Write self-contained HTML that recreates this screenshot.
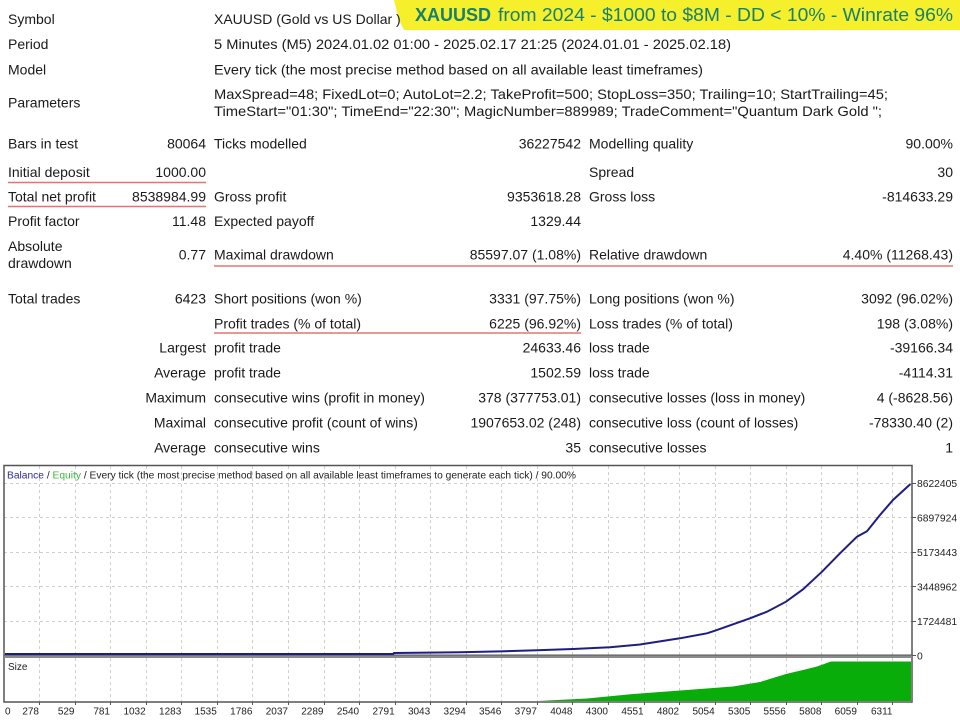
<!DOCTYPE html>
<html><head><meta charset="utf-8"><style>
html,body{margin:0;padding:0;background:#fff;}
svg{display:block;}
text{font-family:"Liberation Sans",Arial,sans-serif;}
.t{font-size:14px;fill:#1a1a1a;}
.s{font-size:10px;fill:#222;}
.g{stroke:#cfcfcf;stroke-width:1;stroke-dasharray:3,3;fill:none;}
</style></head><body>
<svg width="960" height="720" viewBox="0 0 960 720" xmlns="http://www.w3.org/2000/svg">
<rect width="960" height="720" fill="#fff"/>
<!-- banner -->
<polygon points="394,0 960,0 960,30 404,30 400,22 397,12" fill="#f6ef2c"/>
<text x="415" y="21" style="font-size:18px;font-weight:bold;fill:#17806e">XAUUSD</text>
<text x="498" y="21" textLength="455" lengthAdjust="spacingAndGlyphs" style="font-size:18px;fill:#17806e">from 2024 - $1000 to $8M - DD &lt; 10% - Winrate 96%</text>

<!-- table -->
<g class="t">
<text x="8" y="24">Symbol</text>
<text x="214" y="24">XAUUSD (Gold vs US Dollar )</text>
<text x="8" y="49">Period</text>
<text x="214" y="49" textLength="517" lengthAdjust="spacingAndGlyphs">5 Minutes (M5) 2024.01.02 01:00 - 2025.02.17 21:25 (2024.01.01 - 2025.02.18)</text>
<text x="8" y="74.5">Model</text>
<text x="214" y="74.5" textLength="489" lengthAdjust="spacingAndGlyphs">Every tick (the most precise method based on all available least timeframes)</text>
<text x="8" y="107.5">Parameters</text>
<text x="214" y="99" textLength="674" lengthAdjust="spacingAndGlyphs">MaxSpread=48; FixedLot=0; AutoLot=2.2; TakeProfit=500; StopLoss=350; Trailing=10; StartTrailing=45;</text>
<text x="214" y="116" textLength="668" lengthAdjust="spacingAndGlyphs">TimeStart="01:30"; TimeEnd="22:30"; MagicNumber=889989; TradeComment="Quantum Dark Gold ";</text>

<text x="8" y="148.5">Bars in test</text>
<text x="206" y="148.5" text-anchor="end">80064</text>
<text x="214" y="148.5">Ticks modelled</text>
<text x="581" y="148.5" text-anchor="end">36227542</text>
<text x="589" y="148.5">Modelling quality</text>
<text x="953" y="148.5" text-anchor="end">90.00%</text>

<text x="8" y="177">Initial deposit</text>
<text x="206" y="177" text-anchor="end">1000.00</text>
<text x="589" y="177">Spread</text>
<text x="953" y="177" text-anchor="end">30</text>

<text x="8" y="201.5">Total net profit</text>
<text x="206" y="201.5" text-anchor="end">8538984.99</text>
<text x="214" y="201.5">Gross profit</text>
<text x="581" y="201.5" text-anchor="end">9353618.28</text>
<text x="589" y="201.5">Gross loss</text>
<text x="953" y="201.5" text-anchor="end">-814633.29</text>

<text x="8" y="226">Profit factor</text>
<text x="206" y="226" text-anchor="end">11.48</text>
<text x="214" y="226">Expected payoff</text>
<text x="581" y="226" text-anchor="end">1329.44</text>

<text x="8" y="251">Absolute</text>
<text x="8" y="268">drawdown</text>
<text x="206" y="259.5" text-anchor="end">0.77</text>
<text x="214" y="259.5">Maximal drawdown</text>
<text x="581" y="259.5" text-anchor="end">85597.07 (1.08%)</text>
<text x="589" y="259.5">Relative drawdown</text>
<text x="953" y="259.5" text-anchor="end">4.40% (11268.43)</text>

<text x="8" y="303.5">Total trades</text>
<text x="206" y="303.5" text-anchor="end">6423</text>
<text x="214" y="303.5">Short positions (won %)</text>
<text x="581" y="303.5" text-anchor="end">3331 (97.75%)</text>
<text x="589" y="303.5">Long positions (won %)</text>
<text x="953" y="303.5" text-anchor="end">3092 (96.02%)</text>

<text x="214" y="328.5">Profit trades (% of total)</text>
<text x="581" y="328.5" text-anchor="end">6225 (96.92%)</text>
<text x="589" y="328.5">Loss trades (% of total)</text>
<text x="953" y="328.5" text-anchor="end">198 (3.08%)</text>

<text x="206" y="352.5" text-anchor="end">Largest</text>
<text x="214" y="352.5">profit trade</text>
<text x="581" y="352.5" text-anchor="end">24633.46</text>
<text x="589" y="352.5">loss trade</text>
<text x="953" y="352.5" text-anchor="end">-39166.34</text>

<text x="206" y="377.5" text-anchor="end">Average</text>
<text x="214" y="377.5">profit trade</text>
<text x="581" y="377.5" text-anchor="end">1502.59</text>
<text x="589" y="377.5">loss trade</text>
<text x="953" y="377.5" text-anchor="end">-4114.31</text>

<text x="206" y="402.5" text-anchor="end">Maximum</text>
<text x="214" y="402.5">consecutive wins (profit in money)</text>
<text x="581" y="402.5" text-anchor="end">378 (377753.01)</text>
<text x="589" y="402.5">consecutive losses (loss in money)</text>
<text x="953" y="402.5" text-anchor="end">4 (-8628.56)</text>

<text x="206" y="427.5" text-anchor="end">Maximal</text>
<text x="214" y="427.5">consecutive profit (count of wins)</text>
<text x="581" y="427.5" text-anchor="end">1907653.02 (248)</text>
<text x="589" y="427.5">consecutive loss (count of losses)</text>
<text x="953" y="427.5" text-anchor="end">-78330.40 (2)</text>

<text x="206" y="452.5" text-anchor="end">Average</text>
<text x="214" y="452.5">consecutive wins</text>
<text x="581" y="452.5" text-anchor="end">35</text>
<text x="589" y="452.5">consecutive losses</text>
<text x="953" y="452.5" text-anchor="end">1</text>
</g>
<!-- red underlines -->
<g stroke="#e57373" stroke-width="1.5">
<line x1="8" y1="182.5" x2="206" y2="182.5"/>
<line x1="8" y1="206.5" x2="206" y2="206.5"/>
<line x1="214" y1="266" x2="953" y2="266"/>
<line x1="214" y1="333" x2="581" y2="333"/>
</g>

<!-- chart grid -->
<g class="g">
<path d="M39.5,466V655M75.5,466V655M110.5,466V655M146.5,466V655M181.5,466V655M217.5,466V655M252.5,466V655M288.5,466V655M324.5,466V655M359.5,466V655M395.5,466V655M430.5,466V655M466.5,466V655M501.5,466V655M537.5,466V655M572.5,466V655M608.5,466V655M644.5,466V655M679.5,466V655M715.5,466V655M750.5,466V655M786.5,466V655M821.5,466V655M857.5,466V655M892.5,466V655"/>
<path d="M39.5,658V702M75.5,658V702M110.5,658V702M146.5,658V702M181.5,658V702M217.5,658V702M252.5,658V702M288.5,658V702M324.5,658V702M359.5,658V702M395.5,658V702M430.5,658V702M466.5,658V702M501.5,658V702M537.5,658V702M572.5,658V702M608.5,658V702M644.5,658V702M679.5,658V702M715.5,658V702M750.5,658V702M786.5,658V702M821.5,658V702M857.5,658V702M892.5,658V702"/>
<path d="M4,483.5H912M4,517.5H912M4,552.5H912M4,586.5H912M4,621.5H912"/>
</g>

<!-- size fill -->
<path d="M538,701 L587,698.5 L633,694 L680,690.5 L733,686.5 L760,682 L786,674 L805,669.5 L817,666.5 L831,661.5 L911,661.5 L911,701 Z" fill="#09ad09"/>

<!-- borders -->
<rect x="4" y="465.5" width="908" height="236.5" fill="none" stroke="#555" stroke-width="1.5"/>
<rect x="4" y="655" width="908" height="3" fill="#8a8a8a"/>
<line x1="4" y1="655" x2="912" y2="655" stroke="#555" stroke-width="1"/>

<!-- balance line -->
<path d="M5,654 L393,654 L394,653 L460,652.2 L500,651.4 L537,650.3 L573,649 L610,647.3 L640,644.5 L680,638.3 L707,633.3 L715,630.7 L750,618.3 L767,611.7 L786,601.7 L803,589.3 L822,571.7 L840,553.3 L857,536.7 L867,531.2 L880,515 L893,500 L910.5,484" fill="none" stroke="#1e1e82" stroke-width="2"/>

<!-- legend -->
<text x="7" y="478.3" class="s" textLength="569" lengthAdjust="spacingAndGlyphs"><tspan fill="#2b2b9a">Balance</tspan> / <tspan fill="#3cb83c">Equity</tspan> / Every tick (the most precise method based on all available least timeframes to generate each tick) / 90.00%</text>
<text x="8" y="670" class="s">Size</text>

<!-- right ticks and labels -->
<g stroke="#555" stroke-width="1">
<path d="M912,483.5h4M912,517.5h4M912,552.5h4M912,586.5h4M912,621.5h4M912,655.5h4"/>
<path d="M39.5,702v3M75.5,702v3M110.5,702v3M146.5,702v3M181.5,702v3M217.5,702v3M252.5,702v3M288.5,702v3M324.5,702v3M359.5,702v3M395.5,702v3M430.5,702v3M466.5,702v3M501.5,702v3M537.5,702v3M572.5,702v3M608.5,702v3M644.5,702v3M679.5,702v3M715.5,702v3M750.5,702v3M786.5,702v3M821.5,702v3M857.5,702v3M892.5,702v3"/>
</g>
<g class="s" style="font-size:10.3px">
<text x="917" y="487.2">8622405</text>
<text x="917" y="521.7">6897924</text>
<text x="917" y="556.2">5173443</text>
<text x="917" y="590.7">3448962</text>
<text x="917" y="625.2">1724481</text>
<text x="917" y="659.7">0</text>
</g>
<g class="s" text-anchor="end">
<text x="5" y="714.5" text-anchor="start">0</text>
<text x="39" y="714.5">278</text>
<text x="74.5" y="714.5">529</text>
<text x="110" y="714.5">781</text>
<text x="145.7" y="714.5">1032</text>
<text x="181.3" y="714.5">1283</text>
<text x="216.8" y="714.5">1535</text>
<text x="252.4" y="714.5">1786</text>
<text x="288" y="714.5">2037</text>
<text x="323.5" y="714.5">2289</text>
<text x="359.1" y="714.5">2540</text>
<text x="394.7" y="714.5">2791</text>
<text x="430.2" y="714.5">3043</text>
<text x="465.8" y="714.5">3294</text>
<text x="501.3" y="714.5">3546</text>
<text x="536.9" y="714.5">3797</text>
<text x="572.5" y="714.5">4048</text>
<text x="608" y="714.5">4300</text>
<text x="643.6" y="714.5">4551</text>
<text x="679.1" y="714.5">4802</text>
<text x="714.7" y="714.5">5054</text>
<text x="750.3" y="714.5">5305</text>
<text x="785.8" y="714.5">5556</text>
<text x="821.4" y="714.5">5808</text>
<text x="856.9" y="714.5">6059</text>
<text x="892.5" y="714.5">6311</text>
</g>
</svg>
</body></html>
